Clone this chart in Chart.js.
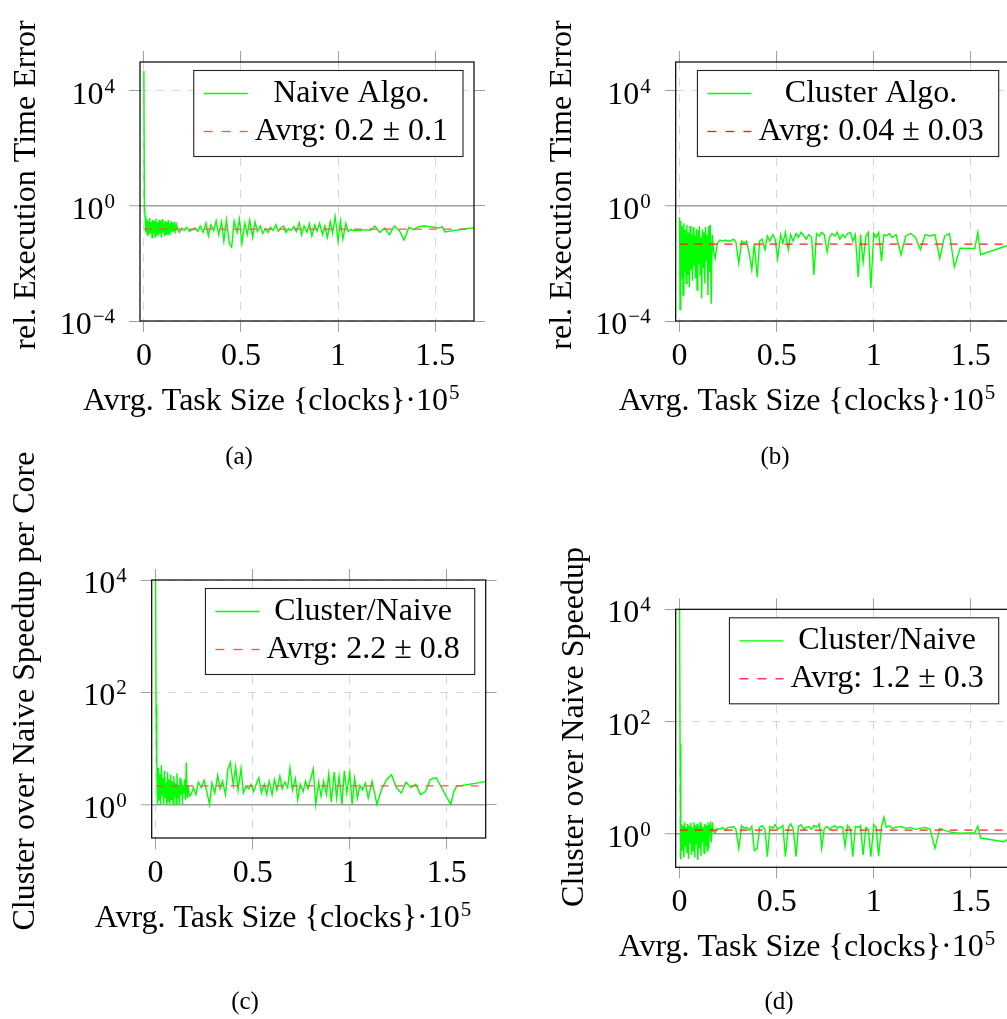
<!DOCTYPE html>
<html>
<head>
<meta charset="utf-8">
<script src="https://cdn.jsdelivr.net/npm/chart.js@4.4.1/dist/chart.umd.min.js"></script>
<style>
html, body { margin: 0; padding: 0; background: #fff; overflow: hidden; width: 1007px; height: 1019px; }
canvas { position: absolute; }
</style>
</head>
<body>
<canvas id="panelA" width="503" height="480" style="left:0;top:0"></canvas>
<canvas id="panelB" width="520" height="480" style="left:503px;top:0"></canvas>
<canvas id="panelC" width="503" height="589" style="left:0;top:430px"></canvas>
<canvas id="panelD" width="520" height="589" style="left:503px;top:430px"></canvas>
<script>
const SERIF = '"Liberation Serif", "DejaVu Serif", serif';

// average task size in clocks (shared by all four panels)
const taskSizes = [
  0, 250, 600, 1000, 1400, 1800, 2200, 2600, 3000, 3400,
  3800, 4200, 4600, 5000, 5400, 5800, 6200, 6600, 7000, 7400,
  7800, 8200, 8600, 9000, 9400, 9800, 10200, 10600, 11000, 11400,
  11800, 12200, 12600, 13000, 13400, 13800, 14200, 14600, 15000, 15400,
  15800, 16300, 16800, 17400, 18300, 19500, 20800, 22000, 23500, 25000,
  26200, 27800, 29000, 30500, 32000, 33200, 34500, 36000, 37200, 38500,
  40000, 41200, 42500, 44000, 45200, 46500, 48000, 49200, 50500, 52000,
  53200, 54500, 56000, 57200, 58500, 60000, 61200, 62500, 64000, 65200,
  66500, 68000, 69200, 70500, 72000, 73200, 74500, 76000, 77200, 78500,
  80000, 81200, 82500, 84000, 85200, 86500, 88000, 89200, 90500, 92000,
  93200, 94500, 96000, 97200, 98500, 100000, 101200, 102500, 104000, 105200,
  106500, 108000, 109500, 111500, 114000, 116500, 119000, 121500, 124000, 126500,
  129000, 131500, 134000, 136500, 139000, 141500, 144500, 152000, 153600, 155000,
  167000, 170000
];

// (a) relative execution time error, naive algorithm
const naiveError = [
  50000, 1.2, 0.45, 0.12, 0.35, 0.09, 0.3, 0.1, 0.38, 0.11,
  0.28, 0.08, 0.33, 0.12, 0.3, 0.085, 0.36, 0.1, 0.27, 0.09,
  0.32, 0.11, 0.3, 0.08, 0.34, 0.12, 0.26, 0.09, 0.3, 0.1,
  0.28, 0.11, 0.33, 0.1, 0.25, 0.12, 0.3, 0.13, 0.26, 0.12,
  0.28, 0.14, 0.22, 0.15, 0.12, 0.17, 0.14, 0.18, 0.13, 0.15,
  0.17, 0.13, 0.2, 0.12, 0.25, 0.09, 0.22, 0.14, 0.3, 0.1,
  0.28, 0.06, 0.33, 0.05, 0.037, 0.3, 0.12, 0.35, 0.05, 0.25,
  0.1, 0.32, 0.08, 0.28, 0.13, 0.2, 0.11, 0.16, 0.12, 0.18,
  0.14, 0.22, 0.13, 0.17, 0.2, 0.12, 0.16, 0.14, 0.19, 0.13,
  0.26, 0.1, 0.2, 0.12, 0.24, 0.09, 0.22, 0.13, 0.25, 0.1,
  0.2, 0.08, 0.28, 0.11, 0.42, 0.06, 0.3, 0.07, 0.25, 0.13,
  0.15, 0.14, 0.14, 0.14, 0.15, 0.14, 0.2, 0.12, 0.17, 0.1,
  0.2, 0.14, 0.065, 0.18, 0.15, 0.19, 0.2, 0.17, 0.19, 0.125,
  0.165, 0.17
];

// (b) relative execution time error, cluster algorithm
const clusterError = [
  0.4, 0.00025, 0.3, 0.003, 0.2, 0.0008, 0.25, 0.005, 0.15, 0.002,
  0.22, 0.004, 0.12, 0.0015, 0.2, 0.006, 0.1, 0.0025, 0.18, 0.008,
  0.09, 0.003, 0.16, 0.0012, 0.14, 0.01, 0.2, 0.004, 0.08, 0.0006,
  0.15, 0.007, 0.12, 0.002, 0.19, 0.012, 0.1, 0.0008, 0.2, 0.005,
  0.22, 0.0004, 0.1, 0.03, 0.015, 0.05, 0.065, 0.06, 0.065, 0.06,
  0.06, 0.07, 0.055, 0.01, 0.06, 0.05, 0.06, 0.02, 0.006, 0.05,
  0.0033, 0.06, 0.07, 0.03, 0.09, 0.06, 0.1, 0.07, 0.015, 0.1,
  0.05, 0.12, 0.03, 0.1, 0.06, 0.11, 0.08, 0.12, 0.09, 0.07,
  0.1, 0.08, 0.004, 0.11, 0.09, 0.12, 0.1, 0.025, 0.08, 0.11,
  0.09, 0.12, 0.07, 0.1, 0.08, 0.11, 0.12, 0.06, 0.1, 0.0034,
  0.1, 0.011, 0.09, 0.12, 0.0014, 0.11, 0.08, 0.12, 0.012, 0.1,
  0.09, 0.11, 0.08, 0.1, 0.02, 0.09, 0.11, 0.08, 0.03, 0.1,
  0.09, 0.1, 0.015, 0.09, 0.11, 0.0075, 0.034, 0.033, 0.12, 0.02,
  0.038, 0.045
];

// (c) cluster over naive speedup per core
const speedupPerCore = [
  10000, 60, 6, 1, 4.5, 1.2, 3.5, 1, 5, 1.5,
  3, 1, 4, 1.3, 2.5, 1, 3.8, 1.1, 2.8, 1,
  3.4, 1.2, 2.6, 1, 3.2, 1.4, 2.4, 1, 3.6, 1.3,
  2.2, 1, 3, 1.5, 2.7, 1, 2.2, 1.6, 2.8, 1.2,
  5.6, 1.3, 2.2, 1.4, 1.5, 2.0, 1.5, 2.5, 2.0, 2.7,
  1.8, 1.0, 2.4, 1.6, 3.3, 1.9, 2.6, 1.5, 4.2, 5.6,
  2.2, 4.7, 1.8, 4.4, 1.6, 2.1, 1.9, 2.3, 1.7, 2.4,
  3.0, 1.6, 2.3, 1.5, 2.6, 1.5, 2.8, 1.8, 3.2, 1.9,
  2.5, 2.0, 4.5, 1.8, 2.9, 1.2, 2.3, 1.7, 2.6, 1.9,
  3.0, 4.3, 1.0, 2.5, 1.4, 2.6, 1.5, 3.5, 1.1, 3.8,
  1.3, 3.2, 1.0, 4.0, 1.6, 3.7, 1.0, 2.9, 1.3, 2.2,
  1.8, 2.4, 1.3, 2.6, 1.0, 1.9, 2.8, 3.4, 2.0, 1.6,
  2.5, 2.0, 2.3, 1.5, 1.7, 2.8, 3.0, 1.0, 1.7, 2.1,
  2.45, 2.55
];

// (d) cluster over naive speedup
const speedup = [
  10000, 40, 0.35, 1.5, 0.5, 1.4, 0.38, 1.6, 0.6, 1.3,
  0.45, 1.5, 0.36, 1.4, 0.7, 1.55, 0.42, 1.3, 0.5, 1.6,
  0.38, 1.4, 0.65, 1.5, 0.34, 1.35, 0.55, 1.6, 0.4, 1.45,
  0.7, 1.3, 0.45, 1.5, 0.6, 1.4, 0.5, 1.6, 0.55, 1.35,
  1.5, 0.7, 1.6, 1.1, 1.05, 1.25, 1.2, 1.3, 1.15, 1.3,
  1.3, 1.35, 1.2, 0.55, 1.4, 1.25, 1.3, 1.15, 1.35, 0.5,
  0.55, 1.3, 1.4, 1.2, 0.39, 1.35, 1.25, 1.45, 1.2, 1.3,
  1.4, 0.39, 1.3, 1.5, 1.25, 0.39, 1.35, 1.45, 1.2, 1.3,
  1.35, 1.2, 1.4, 1.3, 1.5, 0.55, 1.25, 1.35, 1.2, 1.3,
  1.4, 1.25, 1.35, 1.3, 0.6, 1.4, 1.2, 0.39, 1.35, 1.3,
  1.4, 0.42, 1.3, 1.2, 0.39, 1.45, 1.3, 0.4, 1.35, 1.98,
  1.3, 1.4, 1.25, 1.3, 1.35, 1.25, 1.3, 1.2, 1.25, 1.3,
  1.2, 0.55, 1.25, 1.15, 1.08, 1.05, 1.03, 1.05, 1.37, 0.84,
  0.72, 0.85
];

const naiveAvg = 0.155;
const clusterAvg = 0.047;
const speedupPerCoreAvg = 2.15;
const speedupAvg = 1.16;

const xTicks = [0, 50000, 100000, 150000];
const xTickLabels = ['0', '0.5', '1', '1.5'];
const errorTicks = [1e-4, 1, 1e4];
const speedupTicks = [1, 1e2, 1e4];
const xTitle = 'Avrg. Task Size {clocks}';

function points(values) {
  return taskSizes.map((x, i) => ({ x: x, y: values[i] }));
}

function avgLine(v) {
  return [{ x: 0, y: v }, { x: 170000, y: v }];
}

// "10" with a raised exponent, right edge at xRight
function drawPow(ctx, exp, xRight, baseline) {
  const e = exp < 0 ? '\u2212' + (-exp) : String(exp);
  ctx.textAlign = 'left';
  ctx.font = '21px ' + SERIF;
  const we = ctx.measureText(e).width;
  ctx.font = '32px ' + SERIF;
  const wb = ctx.measureText('10').width;
  ctx.fillText('10', xRight - we - wb - 1, baseline);
  ctx.font = '21px ' + SERIF;
  ctx.fillText(e, xRight - we, baseline - 11);
}

function textPlugin(p) {
  return {
    id: 'panelText',
    afterDraw(chart) {
      const ctx = chart.ctx, a = chart.chartArea, scales = chart.scales;
      ctx.save();
      ctx.setLineDash([]);
      ctx.strokeStyle = '#000';
      ctx.lineWidth = 1.2;
      ctx.strokeRect(a.left, a.top, a.right - a.left, a.bottom - a.top);

      ctx.fillStyle = '#000';
      ctx.textBaseline = 'alphabetic';
      p.yTicks.forEach(v => {
        drawPow(ctx, Math.round(Math.log10(v)), a.left - 25, scales.y.getPixelForValue(v) + 13);
      });

      ctx.font = '32px ' + SERIF;
      ctx.textAlign = 'center';
      xTicks.forEach((v, i) => {
        ctx.fillText(xTickLabels[i], scales.x.getPixelForValue(v), a.bottom + 44);
      });

      // x axis title with the 10^5 multiplier
      ctx.textAlign = 'left';
      const xl = a.left - 57, yl = a.bottom + 89;
      ctx.fillText(xTitle, xl, yl);
      let cx = xl + ctx.measureText(xTitle).width;
      ctx.fillText('\u00b710', cx, yl);
      cx += ctx.measureText('\u00b710').width;
      ctx.font = '21px ' + SERIF;
      ctx.fillText('5', cx + 1, yl - 11);

      // y axis title
      ctx.save();
      ctx.translate(p.titleX, p.titleY);
      ctx.rotate(-Math.PI / 2);
      ctx.font = '32px ' + SERIF;
      ctx.textAlign = 'center';
      ctx.fillText(p.yTitle, 0, 0);
      ctx.restore();

      // caption
      ctx.font = '25px ' + SERIF;
      ctx.textAlign = 'center';
      ctx.fillText(p.caption, p.captionX, p.captionY);

      // legend
      ctx.font = '32px ' + SERIF;
      const tw = Math.max(ctx.measureText(p.label).width, ctx.measureText(p.avgLabel).width);
      const bw = 61 + tw + 15, bh = 86;
      const bx = a.right - 11 - bw, by = a.top + 8.5;
      ctx.fillStyle = '#fff';
      ctx.fillRect(bx, by, bw, bh);
      ctx.strokeStyle = '#222';
      ctx.lineWidth = 1.1;
      ctx.strokeRect(bx, by, bw, bh);
      ctx.lineWidth = 1.3;
      ctx.strokeStyle = '#00ff00';
      ctx.beginPath();
      ctx.moveTo(bx + 10, by + 23);
      ctx.lineTo(bx + 54, by + 23);
      ctx.stroke();
      ctx.strokeStyle = p.avgColor;
      ctx.setLineDash([9, 9]);
      ctx.beginPath();
      ctx.moveTo(bx + 10, by + 61);
      ctx.lineTo(bx + 54, by + 61);
      ctx.stroke();
      ctx.setLineDash([]);
      ctx.fillStyle = '#000';
      ctx.fillText(p.label, bx + 61 + tw / 2, by + 31);
      ctx.fillText(p.avgLabel, bx + 61 + tw / 2, by + 69);
      ctx.restore();
    }
  };
}

function isOne(c) {
  return c.tick && Math.abs(c.tick.value - 1) < 1e-9;
}

function makePanel(p) {
  const canvas = document.getElementById(p.canvas);
  const W = canvas.width, H = canvas.height, a = p.area;
  const tickGrid = { drawOnChartArea: false, tickLength: 11, tickColor: '#a0a0a0', tickWidth: 1 };
  new Chart(canvas, {
    type: 'line',
    data: {
      datasets: [
        {
          label: p.label,
          data: points(p.values),
          borderColor: '#00ff00',
          borderWidth: 1.4,
          pointRadius: 0,
          tension: 0,
          order: 1
        },
        {
          label: p.avgLabel,
          data: avgLine(p.avg),
          borderColor: p.avgColor,
          borderWidth: 1.3,
          borderDash: [8, 7],
          pointRadius: 0,
          order: 0
        }
      ]
    },
    options: {
      responsive: false,
      animation: false,
      devicePixelRatio: 1,
      layout: {
        padding: { left: a.left - 11, top: a.top - 11, right: W - a.right - 11, bottom: H - a.bottom - 11 }
      },
      plugins: { legend: { display: false }, tooltip: { enabled: false } },
      scales: {
        x: {
          type: 'linear', position: 'bottom', min: -2000, max: 170000,
          afterBuildTicks: s => { s.ticks = xTicks.map(v => ({ value: v })); },
          afterFit: s => { s.height = 11; },
          ticks: { display: false },
          grid: { color: '#d6d6d6', lineWidth: 1, tickLength: 11, tickColor: '#a0a0a0', tickWidth: 1 },
          border: { display: false, dash: [8, 8] }
        },
        xTop: {
          type: 'linear', position: 'top', min: -2000, max: 170000,
          afterBuildTicks: s => { s.ticks = xTicks.map(v => ({ value: v })); },
          afterFit: s => { s.height = 11; },
          ticks: { display: false },
          grid: tickGrid,
          border: { display: false }
        },
        y: {
          type: 'logarithmic', position: 'left', min: p.yMin, max: p.yMax,
          afterBuildTicks: s => { s.ticks = p.yTicks.map(v => ({ value: v })); },
          afterFit: s => { s.width = 11; },
          ticks: { display: false },
          grid: {
            color: c => isOne(c) ? '#a0a0a0' : '#d6d6d6',
            lineWidth: c => isOne(c) ? 1.5 : 1,
            tickLength: 11, tickColor: '#a0a0a0', tickWidth: 1
          },
          border: { display: false, dash: c => isOne(c) ? [] : [8, 8] }
        },
        yRight: {
          type: 'logarithmic', position: 'right', min: p.yMin, max: p.yMax,
          afterBuildTicks: s => { s.ticks = p.yTicks.map(v => ({ value: v })); },
          afterFit: s => { s.width = 11; },
          ticks: { display: false },
          grid: tickGrid,
          border: { display: false }
        }
      }
    },
    plugins: [textPlugin(p)]
  });
}

makePanel({
  canvas: 'panelA', values: naiveError, avg: naiveAvg, avgColor: '#ff5050',
  label: 'Naive Algo.', avgLabel: 'Avrg: 0.2 \u00b1 0.1',
  yTitle: 'rel. Execution Time Error', yMin: 1e-4, yMax: 1e5, yTicks: errorTicks,
  area: { left: 140, top: 62, right: 474, bottom: 321 },
  titleX: 35, titleY: 185, caption: '(a)', captionX: 239, captionY: 464
});
makePanel({
  canvas: 'panelB', values: clusterError, avg: clusterAvg, avgColor: '#ff1a1a',
  label: 'Cluster Algo.', avgLabel: 'Avrg: 0.04 \u00b1 0.03',
  yTitle: 'rel. Execution Time Error', yMin: 1e-4, yMax: 1e5, yTicks: errorTicks,
  area: { left: 172.7, top: 62, right: 506.7, bottom: 321 },
  titleX: 68, titleY: 185, caption: '(b)', captionX: 272, captionY: 464
});
makePanel({
  canvas: 'panelC', values: speedupPerCore, avg: speedupPerCoreAvg, avgColor: '#ff5050',
  label: 'Cluster/Naive', avgLabel: 'Avrg: 2.2 \u00b1 0.8',
  yTitle: 'Cluster over Naive Speedup per Core', yMin: 0.253, yMax: 1e4, yTicks: speedupTicks,
  area: { left: 151.7, top: 150, right: 485.7, bottom: 408 },
  titleX: 34, titleY: 261, caption: '(c)', captionX: 245, captionY: 579
});
makePanel({
  canvas: 'panelD', values: speedup, avg: speedupAvg, avgColor: '#ff1a1a',
  label: 'Cluster/Naive', avgLabel: 'Avrg: 1.2 \u00b1 0.3',
  yTitle: 'Cluster over Naive Speedup', yMin: 0.253, yMax: 1e4, yTicks: speedupTicks,
  area: { left: 172.7, top: 179.3, right: 506.7, bottom: 437.3 },
  titleX: 80, titleY: 297, caption: '(d)', captionX: 276, captionY: 579
});
</script>
</body>
</html>
